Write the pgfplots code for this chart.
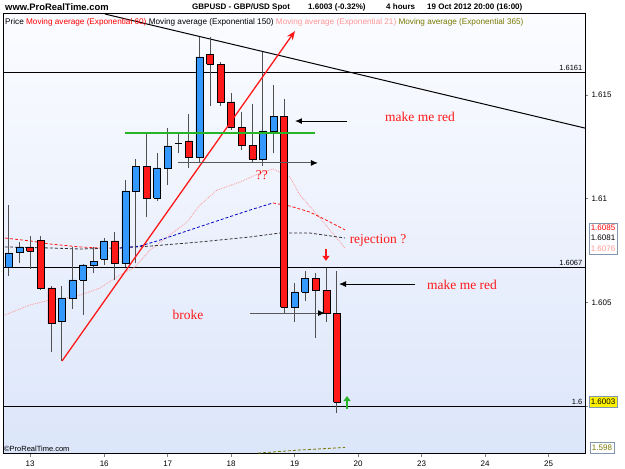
\documentclass[border=0pt]{standalone}
\usepackage{fontspec}
\setmainfont{Liberation Sans}
\newfontfamily\annfont{Liberation Serif}
\usepackage{pgfplots}
\pgfplotsset{compat=1.18}
\usetikzlibrary{arrows.meta}
\definecolor{cblue}{RGB}{51,153,255}
\definecolor{cred}{RGB}{255,25,25}
\definecolor{cpink}{RGB}{255,150,150}
\definecolor{colive}{RGB}{120,120,0}
\definecolor{cgreen}{RGB}{40,180,40}
\definecolor{bgtop}{RGB}{251,252,255}
\definecolor{bgbot}{RGB}{220,230,250}
\definecolor{cema}{RGB}{0,0,200}
\definecolor{wick}{RGB}{80,80,80}
\definecolor{boxb}{RGB}{130,150,175}
% candle: position, low, body low, body high, high, colour
\newcommand{\cdl}[6]{%
 \pgfmathsetmacro\xa{#1-0.33}\pgfmathsetmacro\xb{#1+0.33}%
 \addplot[wick, line width=1pt] coordinates {(#1,#2) (#1,#5)};
 \addplot[draw=black, line width=0.6pt, fill=#6, line join=miter] coordinates {(\xa,#3) (\xb,#3) (\xb,#4) (\xa,#4) (\xa,#3)};
}
\begin{document}
\begin{tikzpicture}
\useasboundingbox (-3pt,-15pt) rectangle (622pt,454pt);
\begin{axis}[
 at={(0,0)}, anchor=south west, scale only axis, width=582pt, height=440pt,
 xmin=-0.567, xmax=54.44, ymin=1.597686, ymax=1.618901,
 axis background/.style={top color=bgtop, bottom color=bgbot},
 axis line style={black, line width=1pt},
 xtick={2,9,15,21,27,33,39,45,51}, xticklabels={13,16,17,18,19,20,23,24,25},
 ytick={1.6,1.605,1.61,1.615}, yticklabels={1.6,1.605,1.61,1.615},
 ytick pos=right, xtick pos=bottom, yticklabel pos=right, tick align=outside,
 major tick length=3pt, tick style={gray, line width=0.6pt},
 tick label style={font=\fontsize{8}{9}\selectfont},
 /pgf/number format/assume math mode=true,
 clip=true,
]
% horizontal levels
\addplot[black, line width=1pt] coordinates {(-0.567,1.6161) (54.44,1.6161)};
\addplot[black, line width=1pt] coordinates {(-0.567,1.6067) (54.44,1.6067)};
\addplot[black, line width=1pt] coordinates {(-0.567,1.6) (54.44,1.6)};
% moving averages
\addplot[cpink, line width=0.8pt, densely dotted] coordinates {(-0.38,1.60439) (1.98,1.60487) (3.88,1.60511) (6.24,1.60526) (8.60,1.60569) (10.49,1.60632) (11.91,1.60670) (13.33,1.60752) (16.82,1.60887) (18.05,1.60969) (19.66,1.61041) (21.83,1.61080) (23.72,1.61123) (24.95,1.61143) (26.56,1.61104) (27.50,1.61017) (29.40,1.60906) (30.81,1.60820) (31.76,1.60762)};
\addplot[black!80, line width=0.8pt, dash pattern=on 3pt off 2pt] coordinates {(-0.38,1.60767) (3.88,1.60762) (6.71,1.60757) (10.49,1.60762) (13.33,1.60771) (18.05,1.60791) (22.78,1.60815) (25.61,1.60834) (28.45,1.60834) (31.76,1.60810)};
\addplot[cred, line width=0.8pt, dash pattern=on 3pt off 2pt] coordinates {(-0.38,1.60810) (1.98,1.60796) (3.88,1.60781) (6.71,1.60767) (8.60,1.60762) (10.49,1.60762)};
\addplot[cema, line width=0.8pt, dash pattern=on 3pt off 2pt] coordinates {(10.49,1.60762) (12.38,1.60771) (14.27,1.60800) (17.11,1.60849) (19.94,1.60897) (22.78,1.60945) (24.95,1.60979)};
\addplot[cred, line width=0.8pt, dash pattern=on 3pt off 2pt] coordinates {(24.95,1.60979) (26.56,1.60964) (28.45,1.60935) (30.34,1.60887) (31.76,1.60849)};
\addplot[colive, line width=0.8pt, dash pattern=on 3pt off 2pt] coordinates {(23.53,1.59773) (27.50,1.59788) (31.76,1.59800)};
% trend line
\addplot[black, line width=1pt] coordinates {(9.07,1.6189) (54.44,1.6134)};
% candles
\cdl{0}{1.60627}{1.60670}{1.60738}{1.60969}{cblue}
\cdl{1}{1.60689}{1.60743}{1.60767}{1.60791}{cblue}
\cdl{2}{1.60661}{1.60747}{1.60767}{1.60820}{cred}
\cdl{3}{1.60559}{1.60569}{1.60800}{1.60820}{cred}
\cdl{4}{1.60260}{1.60400}{1.60569}{1.60580}{cred}
\cdl{5}{1.60217}{1.60410}{1.60521}{1.60579}{cblue}
\cdl{6}{1.60468}{1.60521}{1.60608}{1.60767}{cblue}
\cdl{7}{1.60439}{1.60608}{1.60680}{1.60685}{cblue}
\cdl{8}{1.60641}{1.60680}{1.60699}{1.60767}{cblue}
\cdl{9}{1.60680}{1.60709}{1.60796}{1.60810}{cblue}
\cdl{10}{1.60608}{1.60689}{1.60796}{1.60839}{cred}
\cdl{11}{1.60670}{1.60689}{1.61037}{1.61090}{cblue}
\cdl{12}{1.60689}{1.61037}{1.61157}{1.61191}{cblue}
\cdl{13}{1.60911}{1.61003}{1.61157}{1.61316}{cred}
\cdl{14}{1.60990}{1.61003}{1.61148}{1.61220}{cblue}
\cdl{15}{1.61066}{1.61148}{1.61254}{1.61340}{cblue}
\cdl{16}{1.61220}{1.61268}{1.61268}{1.61311}{black}
\cdl{17}{1.61148}{1.61201}{1.61278}{1.61408}{cred}
\cdl{18}{1.61172}{1.61201}{1.61683}{1.61779}{cblue}
\cdl{19}{1.61446}{1.61649}{1.61697}{1.61779}{cred}
\cdl{20}{1.61446}{1.61466}{1.61649}{1.61659}{cred}
\cdl{21}{1.61331}{1.61345}{1.61466}{1.61509}{cred}
\cdl{22}{1.61234}{1.61258}{1.61345}{1.61418}{cred}
\cdl{23}{1.61176}{1.61191}{1.61258}{1.61456}{cred}
\cdl{24}{1.61157}{1.61191}{1.61326}{1.61707}{cblue}
\cdl{25}{1.61220}{1.61326}{1.61398}{1.61548}{cblue}
\cdl{26}{1.60448}{1.60477}{1.61398}{1.61480}{cred}
\cdl{27}{1.60405}{1.60477}{1.60550}{1.60593}{cblue}
\cdl{28}{1.60506}{1.60550}{1.60617}{1.60651}{cblue}
\cdl{29}{1.60328}{1.60559}{1.60617}{1.60641}{cred}
\cdl{30}{1.60405}{1.60448}{1.60559}{1.60665}{cred}
\cdl{31}{1.59966}{1.60019}{1.60448}{1.60651}{cred}
% annotations
\addplot[cred, line width=1.3pt, -{Stealth[length=9pt,width=7pt]}] coordinates {(5.01,1.60217) (27.03,1.61808)};
\addplot[cgreen, line width=1.3pt] coordinates {(10.96,1.61316) (28.92,1.61316)};
\addplot[gray!70!black, line width=1pt, -{Latex[black,length=7pt,width=6pt]}] coordinates {(15.97,1.61172) (29.2,1.61172)};
\addplot[black, line width=1pt, -{Latex[length=7pt,width=6pt]}] coordinates {(31.95,1.61374) (27.03,1.61374)};
\addplot[gray!70!black, line width=1pt, -{Latex[black,length=7pt,width=6pt]}] coordinates {(22.78,1.60448) (29.87,1.60448)};
\addplot[black, line width=1pt, -{Latex[length=7pt,width=6pt]}] coordinates {(38.37,1.60588) (31.19,1.60588)};
\addplot[cred, line width=2pt, -{Triangle[length=5pt,width=7pt]}] coordinates {(29.96,1.60755) (29.96,1.60700)};
\addplot[cgreen, line width=2pt, -{Triangle[length=5pt,width=7pt]}] coordinates {(31.95,1.59985) (31.95,1.60048)};
\node[anchor=south east, inner sep=1pt, font=\fontsize{7.5}{8}\selectfont] at (axis cs:54.3,1.6161) {1.6161};
\node[anchor=south east, inner sep=1pt, font=\fontsize{7.5}{8}\selectfont] at (axis cs:54.3,1.6067) {1.6067};
\node[anchor=south east, inner sep=1pt, font=\fontsize{7.5}{8}\selectfont] at (axis cs:54.3,1.6) {1.6};
\node[cred, font=\annfont\fontsize{13.5}{14}\selectfont] at (axis cs:38.85,1.61393) {make me red};
\node[cred, font=\annfont\fontsize{13.5}{14}\selectfont] at (axis cs:34.88,1.60796) {rejection ?};
\node[cred, font=\annfont\fontsize{13.5}{14}\selectfont] at (axis cs:42.82,1.60583) {make me red};
\node[cred, font=\annfont\fontsize{13.5}{14}\selectfont] at (axis cs:16.92,1.60439) {broke};
\node[cred, font=\annfont\fontsize{13.5}{14}\selectfont] at (axis cs:23.91,1.61114) {??};
\end{axis}
% header
\node[anchor=west, inner sep=0pt, font=\fontsize{9.4}{10}\selectfont\bfseries] at (2pt,447pt) {www.ProRealTime.com};
\node[anchor=west, inner sep=0pt, font=\fontsize{8}{9}\selectfont\bfseries] at (189pt,447pt) {GBPUSD - GBP/USD Spot};
\node[anchor=west, inner sep=0pt, font=\fontsize{8}{9}\selectfont\bfseries] at (305pt,447pt) {1.6003 (-0.32\%)};
\node[anchor=west, inner sep=0pt, font=\fontsize{8}{9}\selectfont\bfseries] at (383pt,447pt) {4 hours};
\node[anchor=west, inner sep=0pt, font=\fontsize{8}{9}\selectfont\bfseries] at (424pt,447pt) {19 Oct 2012 20:00 (16:00)};
% legend row
\node[anchor=west, inner sep=0pt, font=\fontsize{8.2}{9}\selectfont] at (2pt,432pt) {Price \textcolor{red}{Moving average (Exponential 60)} Moving average (Exponential 150) \textcolor{cpink}{Moving average (Exponential 21)} \textcolor{colive}{Moving average (Exponential 365)}};
% copyright
\node[anchor=west, inner sep=0pt, font=\fontsize{7.5}{8}\selectfont] at (1pt,5pt) {\textcopyright ProRealTime.com};
% value boxes
\draw[boxb, fill=white, line width=0.6pt] (586pt,200pt) rectangle (614pt,231pt);
\node[red, inner sep=0pt, font=\fontsize{8}{9}\selectfont] at (600pt,226pt) {1.6085};
\node[black, inner sep=0pt, font=\fontsize{8}{9}\selectfont] at (600pt,216pt) {1.6081};
\node[cpink, inner sep=0pt, font=\fontsize{8}{9}\selectfont] at (600pt,205.5pt) {1.6076};
\draw[boxb, fill=yellow, line width=0.6pt] (586pt,47pt) rectangle (614pt,58pt);
\node[black, inner sep=0pt, font=\fontsize{8}{9}\selectfont] at (600pt,52.5pt) {1.6003};
\draw[boxb, fill=white, line width=0.6pt] (587pt,1pt) rectangle (611pt,12pt);
\node[colive, inner sep=0pt, font=\fontsize{8}{9}\selectfont] at (599pt,6.5pt) {1.598};
\end{tikzpicture}
\end{document}
